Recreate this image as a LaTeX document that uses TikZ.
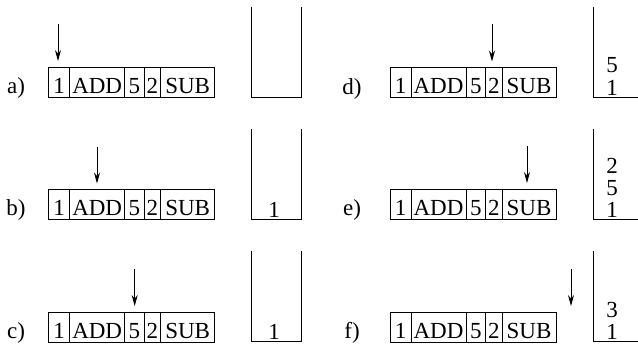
\documentclass[tikz,border=0pt]{standalone}
\usepackage{fontspec}
\setmainfont{Liberation Serif}
\usetikzlibrary{arrows.meta}
\tikzset{
  cell/.style={draw, line width=0.9pt, outer sep=0pt, inner xsep=0pt, inner ysep=0pt,
    minimum height=30pt, text height=22pt, text depth=0pt},
  ptr/.style={line width=0.9pt, -{Stealth[length=11pt,width=6pt]}, shorten >=6pt},
  stackline/.style={line width=0.9pt},
  lbl/.style={anchor=base, inner sep=0pt},
  item/.style={anchor=base, inner sep=0pt}
}
\newcommand\mytape[3]{%
  \node[cell,minimum width=21pt,anchor=north west] (#1c1) at (#2,#3) {1};
  \node[cell,minimum width=55pt,anchor=west] (#1c2) at (#1c1.east) {ADD};
  \node[cell,minimum width=19.5pt,anchor=west] (#1c3) at (#1c2.east) {5};
  \node[cell,minimum width=16.5pt,anchor=west] (#1c4) at (#1c3.east) {2};
  \node[cell,minimum width=54pt,anchor=west] (#1c5) at (#1c4.east) {SUB};
}
\begin{document}
\begin{tikzpicture}[x=1pt,y=-1pt]
\fontsize{23}{27}\selectfont
\useasboundingbox (0,0) rectangle (638,346);
% a)
\node[lbl] (la) at (16,93.5) {a)};
\mytape{a}{48.7}{67}
\coordinate (pa) at (58,24);
\draw[ptr] (pa) -- (pa |- ac1.north);
\draw[stackline] (251,6.5) -- (251,97) -- (301.5,97) -- (301.5,7);
% b)
\node[lbl] (lb) at (16,215.5) {b)};
\mytape{b}{48.7}{189.5}
\coordinate (pb) at (97,146.5);
\draw[ptr] (pb) -- (pb |- bc2.north);
\draw[stackline] (251,128.5) -- (251,219.5) -- (301.5,219.5) -- (301.5,129);
\node[item] (sb1) at (274,217.5) {1};
% c)
\node[lbl] (lc) at (16,338) {c)};
\mytape{c}{48.7}{312}
\coordinate (pc) at (134.7,268.5);
\draw[ptr] (pc) -- (pc |- cc3.north);
\draw[stackline] (251,250.5) -- (251,341.5) -- (301.5,341.5) -- (301.5,251);
\node[item] (sc1) at (274,339.5) {1};
% d)
\node[lbl] (ld) at (352,94) {d)};
\mytape{d}{390}{67.5}
\coordinate (pd) at (492,24);
\draw[ptr] (pd) -- (pd |- dc4.north);
\draw[stackline] (593,7) -- (593,97.7) -- (638,97.7);
\node[item] (sd2) at (612,72) {5};
\node[item] (sd1) at (612,95.5) {1};
% e)
\node[lbl] (le) at (352,215.5) {e)};
\mytape{e}{390}{189}
\coordinate (pe) at (527,146);
\draw[ptr] (pe) -- (pe |- ec5.north);
\draw[stackline] (593,128.5) -- (593,219) -- (638,219);
\node[item] (se3) at (612,173) {2};
\node[item] (se2) at (612,195) {5};
\node[item] (se1) at (612,217) {1};
% f)
\node[lbl] (lf) at (352,338) {f)};
\mytape{f}{390}{312}
\coordinate (pf) at (571,269);
\coordinate (pfe) at (571,312);
\draw[ptr] (pf) -- (pfe);
\draw[stackline] (593,251) -- (593,341.7) -- (638,341.7);
\node[item] (sf2) at (612,317) {3};
\node[item] (sf1) at (612,339.5) {1};
\end{tikzpicture}
\end{document}
